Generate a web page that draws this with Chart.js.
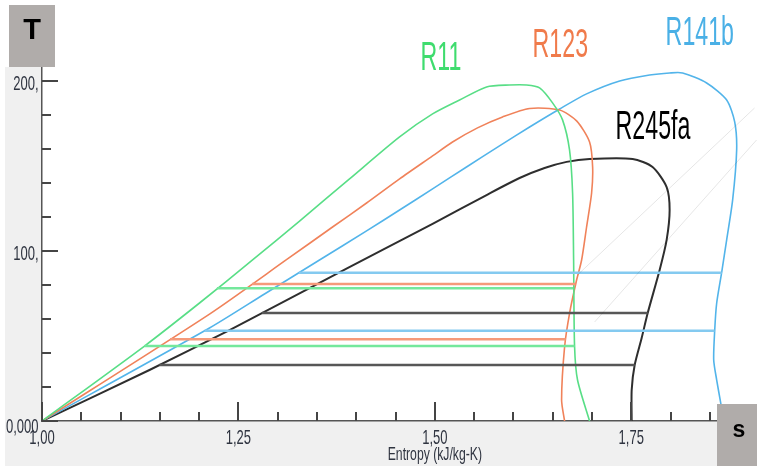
<!DOCTYPE html>
<html>
<head>
<meta charset="utf-8">
<script src="https://cdn.jsdelivr.net/npm/chart.js@4.4.1/dist/chart.umd.min.js"></script>
<style>
  html, body { margin: 0; padding: 0; background: #fff; }
  canvas { display: block; }
</style>
</head>
<body>
<canvas id="tsChart" width="757" height="466"></canvas>
<script>
// saturation domes, [entropy kJ/kg-K, temperature]
const r11Dome = [
  [1.0000, 0], [1.1305, 44.1], [1.2005, 69.4], [1.2680, 94.7], [1.3278, 117.6],
  [1.3914, 142.4], [1.4551, 167.1], [1.4971, 180.6], [1.5315, 188.8], [1.5658, 196.5],
  [1.5951, 197.6], [1.6167, 197.6], [1.6333, 195.9], [1.6498, 187.1], [1.6625, 177.1],
  [1.6714, 159.4], [1.6753, 134.1], [1.6766, 94.7], [1.6778, 44.1], [1.6816, 24.1],
  [1.6969, 0]
];
const r123Dome = [
  [1.0000, 0], [1.2132, 62.9], [1.3125, 95.3], [1.3698, 114.1], [1.4131, 128.2],
  [1.4551, 142.4], [1.4971, 155.9], [1.5225, 164.1], [1.5543, 172.4], [1.5862, 178.8],
  [1.6206, 183.8], [1.6588, 182.9], [1.6804, 176.5], [1.6969, 164.1], [1.7008, 149.4],
  [1.6995, 134.1], [1.6931, 114.1], [1.6868, 94.7], [1.6804, 82.9], [1.6715, 63.5],
  [1.6651, 43.5], [1.6613, 12.4], [1.6651, 0]
];
const r141bDome = [
  [1.0000, 0], [1.2132, 54.7], [1.2832, 74.7], [1.3532, 94.7], [1.4131, 111.8],
  [1.4551, 124.1], [1.4971, 136.5], [1.5403, 149.4], [1.5823, 161.8], [1.6206, 172.9],
  [1.6588, 183.5], [1.6931, 192.4], [1.7352, 200.0], [1.7733, 203.5], [1.7988, 204.7],
  [1.8153, 204.7], [1.8459, 198.8], [1.8714, 188.8], [1.8816, 175.9], [1.8841, 159.4],
  [1.8790, 130.0], [1.8714, 106.5], [1.8651, 87.6], [1.8587, 69.4], [1.8562, 53.5],
  [1.8549, 35.9], [1.8587, 24.1], [1.8638, 10.6], [1.8675, 0]
];
const r245faDome = [
  [1.0000, 0], [1.1368, 30.0], [1.2387, 53.5], [1.3405, 78.2], [1.4334, 100.6],
  [1.4971, 115.9], [1.5658, 132.9], [1.6078, 142.9], [1.6396, 148.8], [1.6677, 152.4],
  [1.6969, 154.1], [1.7517, 154.1], [1.7771, 149.4], [1.7950, 137.6], [1.7988, 124.1],
  [1.7950, 106.5], [1.7861, 88.8], [1.7709, 63.5], [1.7632, 48.8], [1.7543, 32.9],
  [1.7505, 18.2], [1.7505, 0]
];

// evaporation levels: temperature, liquid-side and vapour-side entropy
const r11Levels = [78.1, 44.1];
const r11LiquidS = [1.2226, 1.1305];
const r11VapourS = [1.6760, 1.6778];

const r123Levels = [80.6, 48.1];
const r123LiquidS = [1.2673, 1.1630];
const r123VapourS = [1.6790, 1.6665];

const r141bLevels = [87.2, 53.1];
const r141bLiquidS = [1.3269, 1.2070];
const r141bVapourS = [1.8651, 1.8560];

const r245faLevels = [63.5, 32.9];
const r245faLiquidS = [1.2801, 1.1494];
const r245faVapourS = [1.7709, 1.7543];

// faint background isolines
const isoLineA = [[1.6816, 85.9], [1.9069, 184.1]];
const isoLineB = [[1.7033, 58.2], [1.9095, 165.3]];

const refrigerants = ['R11', 'R123', 'R141b', 'R245fa'];

const xTickValues = [1.00, 1.25, 1.50, 1.75];
const xTickLabels = ['1,00', '1,25', '1,50', '1,75'];
const yTickValues = [0, 100, 200];
const yTickLabels = ['0,000', '100,', '200,'];
const xTitle = 'Entropy (kJ/kg-K)';

const FONT = '"Liberation Sans", Arial, sans-serif';
const domeColors = ['#58de86', '#f0825a', '#52b4ea', '#2e2e2e'];
const levelColors = ['#74e89c', '#f59a7a', '#84caf0', '#575757'];
const nameColors = ['#3fdc6e', '#f07b4b', '#4ab0e6', '#000000'];

const toPts = arr => arr.map(p => ({ x: p[0], y: p[1] }));

function levelSets(levels, liq, vap, color) {
  return levels.map((t, i) => ({
    data: [{ x: liq[i], y: t }, { x: vap[i], y: t }],
    borderColor: color,
    borderWidth: 2.6
  }));
}

const domes = [r11Dome, r123Dome, r141bDome, r245faDome];

const datasets = [
  { data: toPts(isoLineA), borderColor: 'rgba(0,0,0,0.10)', borderWidth: 1 },
  { data: toPts(isoLineB), borderColor: 'rgba(0,0,0,0.10)', borderWidth: 1 },
  ...levelSets(r11Levels, r11LiquidS, r11VapourS, levelColors[0]),
  ...levelSets(r123Levels, r123LiquidS, r123VapourS, levelColors[1]),
  ...levelSets(r141bLevels, r141bLiquidS, r141bVapourS, levelColors[2]),
  ...levelSets(r245faLevels, r245faLiquidS, r245faVapourS, levelColors[3]),
  ...domes.map((d, i) => ({
    label: refrigerants[i],
    data: toPts(d),
    borderColor: domeColors[i],
    borderWidth: i === 3 ? 2 : 1.6,
    tension: 0.25
  }))
];

function squeezedText(ctx, text, x, y, size, bold, color, sx, align) {
  ctx.save();
  ctx.font = (bold ? 'bold ' : '') + size + 'px ' + FONT;
  ctx.fillStyle = color;
  ctx.textAlign = align || 'left';
  ctx.textBaseline = 'alphabetic';
  ctx.translate(x, y);
  ctx.scale(sx, 1);
  ctx.fillText(text, 0, 0);
  ctx.restore();
}

function indexOfValue(list, v) {
  return list.findIndex(u => Math.abs(u - v) < 1e-6);
}

// grey margins, inward tick marks, squeezed labels and the T / s boxes
const diagramFrame = {
  id: 'diagramFrame',
  beforeDraw(chart) {
    const ctx = chart.ctx, a = chart.chartArea;
    ctx.save();
    ctx.fillStyle = '#ffffff';
    ctx.fillRect(0, 0, chart.width, chart.height);
    ctx.fillStyle = '#f0f0f0';
    ctx.fillRect(5, a.top, a.left - 5, chart.height - a.top);
    ctx.fillRect(5, a.bottom, chart.width - 5, chart.height - a.bottom);
    ctx.restore();
  },
  afterDraw(chart, args, opts) {
    const ctx = chart.ctx, a = chart.chartArea;
    const xs = chart.scales.x, ys = chart.scales.y;

    ctx.save();
    ctx.strokeStyle = '#454545';
    ctx.lineWidth = 2;
    xs.ticks.forEach(t => {
      const px = Math.round(xs.getPixelForValue(t.value));
      const len = indexOfValue(xTickValues, t.value) >= 0 ? 19 : 9;
      ctx.beginPath();
      ctx.moveTo(px, a.bottom);
      ctx.lineTo(px, a.bottom - len);
      ctx.stroke();
    });
    ys.ticks.forEach(t => {
      const py = Math.round(ys.getPixelForValue(t.value));
      const len = indexOfValue(yTickValues, t.value) >= 0 ? 16 : 9;
      ctx.beginPath();
      ctx.moveTo(a.left, py);
      ctx.lineTo(a.left + len, py);
      ctx.stroke();
    });
    ctx.restore();

    xTickValues.forEach((v, i) => {
      squeezedText(ctx, xTickLabels[i], xs.getPixelForValue(v), a.bottom + 23, 21, false, '#2f3440', 0.62, 'center');
    });
    yTickValues.forEach((v, i) => {
      const dy = v === 0 ? 12 : 9;
      squeezedText(ctx, yTickLabels[i], a.left - 3.5, ys.getPixelForValue(v) + dy, 21, false, '#2f3440', 0.62, 'right');
    });
    squeezedText(ctx, xTitle, xs.getPixelForValue(1.5), a.bottom + 39, 18.5, false, '#2f3440', 0.66, 'center');

    // axis boxes
    ctx.save();
    ctx.fillStyle = '#b0acaa';
    ctx.fillRect(9, 5, 46, 62);
    ctx.fillRect(717, 404, 40, 62);
    ctx.restore();
    squeezedText(ctx, 'T', 32, 39, 29, true, '#000', 1, 'center');
    squeezedText(ctx, 's', 739, 437, 23, true, '#000', 1, 'center');

    // refrigerant names
    opts.anchors.forEach((p, i) => {
      squeezedText(ctx, refrigerants[i], xs.getPixelForValue(p[0]), ys.getPixelForValue(p[1]), 40, false, nameColors[i], 0.58, 'left');
    });
  }
};

new Chart(document.getElementById('tsChart'), {
  type: 'scatter',
  data: { datasets: datasets },
  options: {
    responsive: false,
    animation: false,
    showLine: true,
    layout: { padding: { top: 67, right: 0, bottom: 0, left: 0 } },
    elements: { point: { radius: 0, hoverRadius: 0 }, line: { fill: false } },
    plugins: {
      legend: { display: false },
      tooltip: { enabled: false },
      diagramFrame: {
        anchors: [[1.4818, 206.5], [1.6244, 214.1], [1.7937, 221.2], [1.7300, 165.9]]
      }
    },
    scales: {
      x: {
        type: 'linear',
        min: 1,
        max: 1.91,
        ticks: { display: false, stepSize: 0.05, includeBounds: false },
        grid: { display: false },
        border: { display: true, color: '#555', width: 1.5 },
        afterFit(s) { s.height = 45; }
      },
      y: {
        type: 'linear',
        min: 0,
        max: 208.2,
        ticks: { display: false, stepSize: 20, includeBounds: false },
        grid: { display: false },
        border: { display: true, color: '#555', width: 1.5 },
        afterFit(s) { s.width = 42; }
      }
    }
  },
  plugins: [diagramFrame]
});
</script>
</body>
</html>
